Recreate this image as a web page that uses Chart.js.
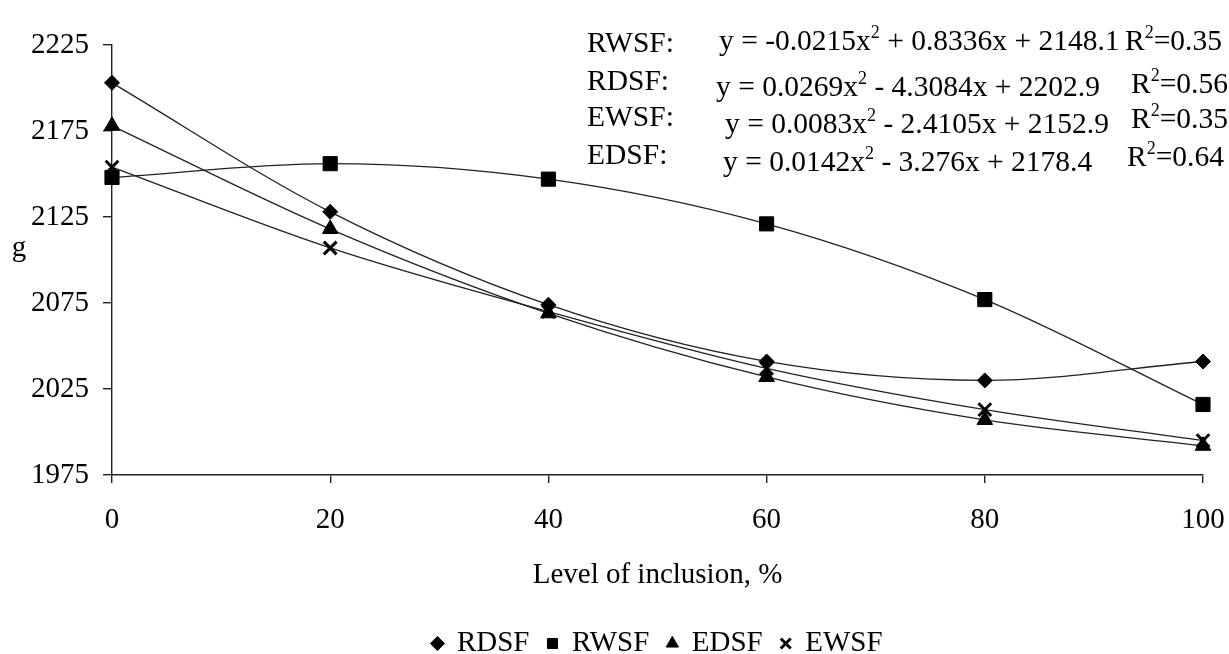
<!DOCTYPE html>
<html><head><meta charset="utf-8">
<script src="https://cdn.jsdelivr.net/npm/chart.js@4.4.1/dist/chart.umd.min.js"></script>
<style>html,body{margin:0;padding:0;background:#fff;} canvas{display:block;}</style>
</head><body>
<canvas id="c" width="1229" height="654"></canvas>
<script>
// ---- data ----
const levels = [0, 20, 40, 60, 80, 100];
const rdsf = [2203, 2128, 2074, 2041, 2030, 2041];
const rwsf = [2148, 2156, 2147, 2121, 2077, 2016];
const edsf = [2178, 2118, 2069, 2032, 2007, 1992];
const ewsf = [2154, 2107, 2070, 2037, 2013, 1995];
const seriesNames = ['RDSF', 'RWSF', 'EDSF', 'EWSF'];
const xTicks = [0, 20, 40, 60, 80, 100];
const yTicks = [1975, 2025, 2075, 2125, 2175, 2225];
const eqNames = ['RWSF:', 'RDSF:', 'EWSF:', 'EDSF:'];
const eqTexts = ['y = -0.0215x^2 + 0.8336x + 2148.1', 'y = 0.0269x^2 - 4.3084x + 2202.9', 'y = 0.0083x^2 - 2.4105x + 2152.9', 'y = 0.0142x^2 - 3.276x + 2178.4'];
const eqR2 = ['0.35', '0.56', '0.35', '0.64'];
const xTitle = 'Level of inclusion, %';
const yTitle = 'g';

// ---- layout / style ----
const FONT = 'Liberation Serif';
const FS = 29;
const FS_EQ = 29.5;
const PLOT = {left: 112, right: 1203, top: 45, bottom: 475};
const LEG_DY = 14;
const eqLayout = {
  nameX: 587, nameY: [52, 90, 126, 164],
  eqX: [719, 716, 725, 723], eqY: [50, 96, 133, 171],
  r2X: [1125, 1131, 1131, 1127], r2Y: [50, 93, 128, 166]
};

Chart.defaults.font.family = FONT;
Chart.defaults.font.size = FS;
Chart.defaults.color = '#000';

function pts(arr) { return levels.map((x, i) => ({x: x, y: arr[i]})); }
const styles = {
  RDSF: {pointStyle: 'rectRot', pointRadius: 7.5, pointBorderWidth: 1},
  RWSF: {pointStyle: 'rect', pointRadius: 10, pointBorderWidth: 1},
  EDSF: {pointStyle: 'triangle', pointRadius: 9, pointBorderWidth: 1},
  EWSF: {pointStyle: 'crossRot', pointRadius: 9, pointBorderWidth: 3}
};
const seriesData = {RDSF: rdsf, RWSF: rwsf, EDSF: edsf, EWSF: ewsf};
const datasets = seriesNames.map(n => Object.assign({
  label: n,
  data: pts(seriesData[n]),
  borderColor: '#222',
  borderWidth: 1.3,
  backgroundColor: '#000',
  pointBackgroundColor: '#000',
  pointBorderColor: '#000',
  pointHoverRadius: 0,
  cubicInterpolationMode: 'monotone',
  fill: false,
  clip: false
}, styles[n]));

function drawRich(ctx, text, x, y, size) {
  const parts = text.split('^');
  let cx = x;
  parts.forEach((p, i) => {
    let s = p;
    if (i > 0) {
      const sup = s[0]; s = s.slice(1);
      ctx.font = Math.round(size * 0.62) + 'px "' + FONT + '"';
      ctx.fillText(sup, cx, y - size * 0.4);
      cx += ctx.measureText(sup).width;
    }
    ctx.font = size + 'px "' + FONT + '"';
    ctx.fillText(s, cx, y);
    cx += ctx.measureText(s).width;
  });
}

const textPlugin = {
  id: 'texts',
  afterLayout(chart) {
    const lg = chart.legend;
    const dx = (chart.chartArea.left + chart.chartArea.right) / 2 - (lg.left + lg.right) / 2;
    lg.left += dx; lg.right += dx; lg.top += LEG_DY; lg.bottom += LEG_DY;
  },
  afterDraw(chart) {
    const ctx = chart.ctx;
    ctx.save();
    ctx.fillStyle = '#000';
    ctx.textBaseline = 'alphabetic';
    ctx.font = FS + 'px "' + FONT + '"';
    ctx.textAlign = 'center';
    ctx.fillText(yTitle, 19, 256);
    ctx.textAlign = 'left';
    for (let i = 0; i < eqNames.length; i++) {
      ctx.font = FS_EQ + 'px "' + FONT + '"';
      ctx.fillText(eqNames[i], eqLayout.nameX, eqLayout.nameY[i]);
      drawRich(ctx, eqTexts[i], eqLayout.eqX[i], eqLayout.eqY[i], FS_EQ);
      drawRich(ctx, 'R^2=' + eqR2[i], eqLayout.r2X[i], eqLayout.r2Y[i], FS_EQ);
    }
    ctx.restore();
  }
};

new Chart(document.getElementById('c'), {
  type: 'line',
  data: {datasets: datasets},
  options: {
    responsive: false,
    animation: false,
    devicePixelRatio: 1,
    layout: {padding: {left: 0, right: 1229 - PLOT.right, top: PLOT.top, bottom: 0}},
    plugins: {
      legend: {
        display: true,
        position: 'bottom',
        labels: {usePointStyle: true, boxWidth: 10, boxHeight: 10, padding: 18, color: '#000', font: {size: FS}}
      },
      tooltip: {enabled: false},
      title: {display: false}
    },
    scales: {
      x: {
        type: 'linear', min: 0, max: 100,
        afterBuildTicks(s) { s.ticks = xTicks.map(v => ({value: v})); },
        afterFit(s) {
          s.height = s.chart.height - s.chart.legend.height - PLOT.bottom;
          s.paddingLeft = 0; s.paddingRight = 0;
        },
        border: {color: '#222', width: 1.4},
        grid: {drawOnChartArea: false, drawTicks: true, tickLength: 8, color: '#222', lineWidth: 1.4},
        ticks: {padding: 20, color: '#000', font: {size: FS}, maxRotation: 0, autoSkip: false, callback: v => String(v)},
        title: {display: true, text: xTitle, color: '#000', font: {size: FS}, padding: {top: 0, bottom: 4}}
      },
      y: {
        type: 'linear', min: 1975, max: 2225,
        afterBuildTicks(s) { s.ticks = yTicks.map(v => ({value: v})); },
        afterFit(s) { s.width = PLOT.left; s.paddingTop = 0; s.paddingBottom = 0; },
        border: {color: '#222', width: 1.4},
        grid: {drawOnChartArea: false, drawTicks: true, tickLength: 9, color: '#222', lineWidth: 1.4},
        ticks: {padding: 14, color: '#000', font: {size: FS}, autoSkip: false, callback: v => String(v)}
      }
    }
  },
  plugins: [textPlugin]
});
</script>
</body></html>
